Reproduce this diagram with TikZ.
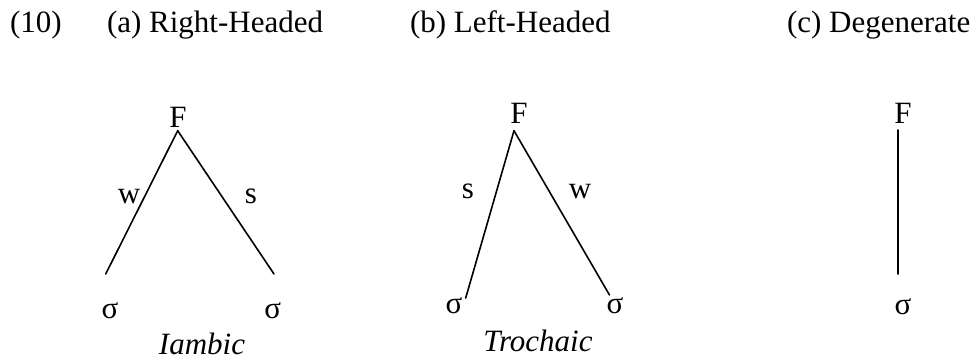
\documentclass[tikz,border=0pt]{standalone}
\usepackage{fontspec}
\setmainfont{Liberation Serif}
\begin{document}
\begin{tikzpicture}[x=1pt,y=-1pt,
  txt/.style={inner sep=0pt,outer sep=0pt,font=\fontsize{31}{37}\selectfont},
  hdr/.style={txt,anchor=base west},
  lab/.style={txt,anchor=base},
  branch/.style={line width=1.6pt,line cap=round}]
\useasboundingbox (0,0) rectangle (979,360);
% headers
\node[hdr] (h10) at (10,32) {(10)};
\node[hdr] (ha) at (107,32) {(a) Right-Headed};
\node[hdr] (hb) at (410,32) {(b) Left-Headed};
\node[hdr] (hc) at (787,32) {(c) Degenerate};
% (a) right-headed
\node[lab] (Fa) at (178,127) {F};
\coordinate (aTop) at (177.7,130.7);
\coordinate (aL) at (105.7,274);
\coordinate (aR) at (274,274);
\draw[branch] (aTop) -- (aL);
\draw[branch] (aTop) -- (aR);
\node[lab] (wa) at (129,203) {w};
\node[lab] (sa) at (251,203) {s};
\node[lab] (sigaL) at (110,318) {σ};
\node[lab] (sigaR) at (272.7,318) {σ};
\node[lab,font=\fontsize{31}{37}\selectfont\itshape] (iamb) at (202,354) {Iambic};
% (b) left-headed
\node[lab] (Fb) at (519,123.3) {F};
\coordinate (bTop) at (514,130.7);
\coordinate (bL) at (465.7,298);
\coordinate (bR) at (609.5,295);
\draw[branch] (bTop) -- (bL);
\draw[branch] (bTop) -- (bR);
\node[lab] (sb) at (468,198) {s};
\node[lab] (wb) at (580,198) {w};
\node[lab] (sigbL) at (454,313) {σ};
\node[lab] (sigbR) at (615,313) {σ};
\node[lab,font=\fontsize{31}{37}\selectfont\itshape] (troch) at (538,351.7) {Trochaic};
% (c) degenerate
\node[lab] (Fc) at (903,123.3) {F};
\coordinate (cTop) at (897.7,130);
\coordinate (cBot) at (897.7,274);
\draw[branch] (cTop) -- (cBot);
\node[lab] (sigc) at (903,314) {σ};
\end{tikzpicture}
\end{document}
